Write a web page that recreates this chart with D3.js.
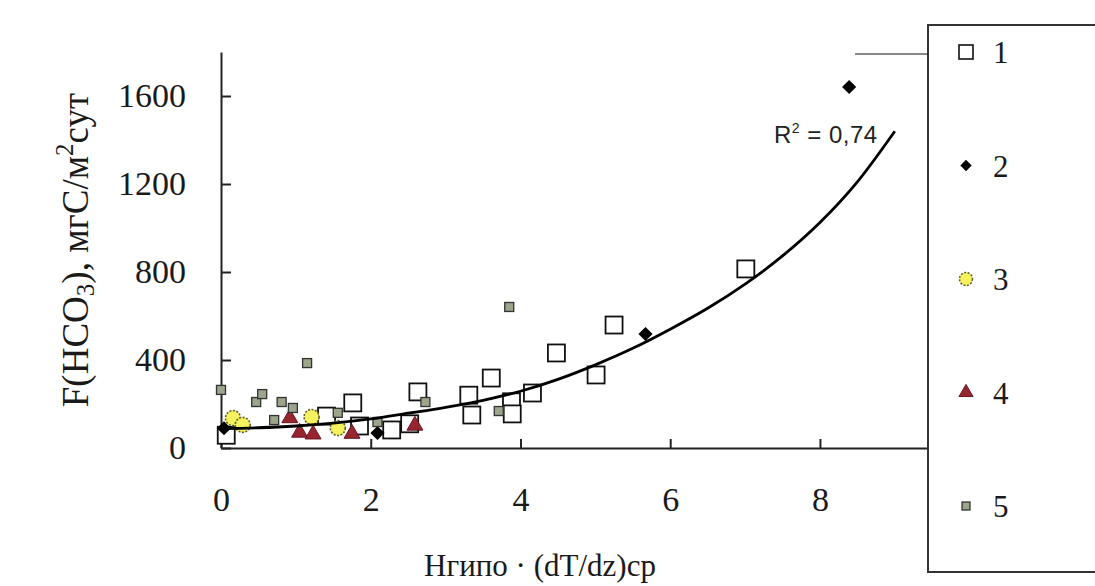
<!DOCTYPE html>
<html><head><meta charset="utf-8">
<script src="https://cdn.jsdelivr.net/npm/d3@7"></script>
<style>body{margin:0;background:#fff}svg{display:block}</style>
</head><body><svg id="c" width="1095" height="586"></svg>
<script>
// ---- data ----
const xTicks = [0, 2, 4, 6, 8];
const yTicks = [0, 400, 800, 1200, 1600];
const legendLabels = ["1", "2", "3", "4", "5"];

const s1X = [0.07, 1.41, 1.76, 1.85, 2.28, 2.52, 2.63, 3.31, 3.35, 3.61, 3.88, 3.89, 4.16, 4.48, 5.01, 5.25, 7.01];
const s1Y = [58, 145, 205, 100, 82, 110, 255, 240, 150, 318, 210, 155, 250, 432, 332, 559, 814];

const s2X = [0.04, 2.09, 5.67, 8.39];
const s2Y = [90, 68, 518, 1641];

const s3X = [0.16, 0.29, 1.21, 1.56];
const s3Y = [136, 105, 141, 91];

const s4X = [0.92, 1.05, 1.23, 1.75, 2.59];
const s4Y = [136, 70, 62, 65, 102];

const s5X = [0.0, 0.47, 0.55, 0.71, 0.81, 0.96, 1.15, 1.56, 2.09, 2.73, 3.71, 3.85];
const s5Y = [264, 209, 245, 127, 209, 182, 386, 160, 118, 209, 168, 641];

const trendX = [0, 0.5, 1, 1.5, 2, 2.5, 3, 3.5, 4, 4.5, 5, 5.5, 6, 6.5, 7, 7.5, 8, 8.5, 9.0];
const trendY = [88, 92, 100, 113, 132, 158, 185, 217, 258, 312, 378, 453, 540, 635, 745, 873, 1025, 1210, 1440];

const r2Label = "0,74";

// ---- drawing ----
const svg = d3.select("#c");
const x = d3.scaleLinear().domain([0, 9.43]).range([221, 927]);
const y = d3.scaleLinear().domain([0, 1800]).range([448, 52]);
const zip = (a, b) => a.map((v, i) => [v, b[i]]);

const serif = "'Liberation Serif','Times New Roman',serif";

// axes
const yAxis = d3.axisLeft(y).tickValues(yTicks).tickFormat(d3.format("d"))
  .tickSizeInner(-10).tickSizeOuter(0).tickPadding(35);
const gy = svg.append("g").attr("transform", `translate(${x(0)},0)`).call(yAxis);
const xAxis = d3.axisBottom(x).tickValues(xTicks).tickFormat(d3.format("d"))
  .tickSizeInner(-9).tickSizeOuter(0).tickPadding(39);
const gx = svg.append("g").attr("transform", `translate(0,${y(0)})`).call(xAxis);
[gx, gy].forEach(g => {
  g.select(".domain").attr("stroke", "#222").attr("stroke-width", 2);
  g.selectAll(".tick line").attr("stroke", "#222").attr("stroke-width", 2);
  g.selectAll(".tick text").attr("font-family", serif).attr("font-size", 34).attr("fill", "#1a1a1a");
});

// short top border near legend
svg.append("line").attr("x1", 855).attr("x2", x.range()[1]).attr("y1", 54).attr("y2", 54)
  .attr("stroke", "#888").attr("stroke-width", 2);

// markers
function drawSquares(data, size, fill, stroke, sw) {
  svg.append("g").selectAll("rect").data(data).join("rect")
    .attr("x", d => x(d[0]) - size / 2).attr("y", d => y(d[1]) - size / 2)
    .attr("width", size).attr("height", size)
    .attr("fill", fill).attr("stroke", stroke).attr("stroke-width", sw);
}
drawSquares(zip(s1X, s1Y), 17, "#fff", "#111", 1.8);

svg.append("g").selectAll("path").data(zip(s2X, s2Y)).join("path")
  .attr("transform", d => `translate(${x(d[0])},${y(d[1])}) rotate(45)`)
  .attr("d", "M-5,-5H5V5H-5Z").attr("fill", "#000");

svg.append("g").selectAll("circle").data(zip(s3X, s3Y)).join("circle")
  .attr("cx", d => x(d[0])).attr("cy", d => y(d[1])).attr("r", 7.5)
  .attr("fill", "#f6f25e").attr("stroke", "#5d5c2a").attr("stroke-width", 1.6).attr("stroke-dasharray", "2,1.5");

const tri = d3.symbol().type(d3.symbolTriangle).size(110);
svg.append("g").selectAll("path").data(zip(s4X, s4Y)).join("path")
  .attr("transform", d => `translate(${x(d[0])},${y(d[1])})`)
  .attr("d", tri()).attr("fill", "#962530").attr("stroke", "#6a1520").attr("stroke-width", 1);

drawSquares(zip(s5X, s5Y), 9, "#9ba58a", "#333", 1.3);

// trend line
svg.append("path").datum(zip(trendX, trendY))
  .attr("d", d3.line().x(d => x(d[0])).y(d => y(d[1])).curve(d3.curveMonotoneX))
  .attr("fill", "none").attr("stroke", "#000").attr("stroke-width", 2.8);

// R^2 label
const r2 = svg.append("text").attr("x", 774).attr("y", 143)
  .attr("font-family", "'Liberation Sans',Arial,sans-serif").attr("font-size", 24)
  .attr("letter-spacing", 0.5).attr("fill", "#222");
r2.append("tspan").text("R");
r2.append("tspan").attr("font-size", 14).attr("dy", -10).text("2");
r2.append("tspan").attr("dy", 10).text(" = " + r2Label);

// y axis title
const yt = svg.append("text").attr("transform", "translate(88,250) rotate(-90)")
  .attr("text-anchor", "middle").attr("font-family", serif).attr("font-size", 37).attr("fill", "#1a1a1a");
yt.append("tspan").text("F(HCO");
yt.append("tspan").attr("font-size", 25).attr("dy", 6).text("3");
yt.append("tspan").attr("dy", -6).text("), мгС/м");
yt.append("tspan").attr("font-size", 25).attr("dy", -15).text("2");
yt.append("tspan").attr("dy", 15).text("сут");

// x axis title
svg.append("text").attr("x", 540).attr("y", 576).attr("text-anchor", "middle")
  .attr("font-family", serif).attr("font-size", 31).attr("fill", "#1a1a1a")
  .text("Нгипо · (dT/dz)ср");

// legend
const lg = svg.append("g");
lg.append("rect").attr("x", 928).attr("y", 25).attr("width", 300).attr("height", 547)
  .attr("fill", "#fff").attr("stroke", "#333").attr("stroke-width", 2);
const ly = d3.scalePoint().domain(legendLabels).range([52, 506]);
const mx = 966;
lg.append("rect").attr("x", mx - 7).attr("y", ly("1") - 7).attr("width", 14).attr("height", 14)
  .attr("fill", "#fff").attr("stroke", "#111").attr("stroke-width", 1.6);
lg.append("path").attr("transform", `translate(${mx},${ly("2")}) rotate(45)`).attr("d", "M-4,-4H4V4H-4Z").attr("fill", "#000");
lg.append("circle").attr("cx", mx).attr("cy", ly("3")).attr("r", 6.5)
  .attr("fill", "#f6f25e").attr("stroke", "#5d5c2a").attr("stroke-width", 1.5).attr("stroke-dasharray", "2,1.5");
lg.append("path").attr("transform", `translate(${mx},${ly("4")})`).attr("d", d3.symbol().type(d3.symbolTriangle).size(85)())
  .attr("fill", "#962530").attr("stroke", "#6a1520");
lg.append("rect").attr("x", mx - 4).attr("y", ly("5") - 4).attr("width", 8).attr("height", 8)
  .attr("fill", "#9ba58a").attr("stroke", "#333").attr("stroke-width", 1.3);
lg.selectAll("text.l").data(legendLabels).join("text").attr("class", "l")
  .attr("x", 993).attr("y", d => ly(d) + 11)
  .attr("font-family", serif).attr("font-size", 31).attr("fill", "#1a1a1a").text(d => d);
</script></body></html>
